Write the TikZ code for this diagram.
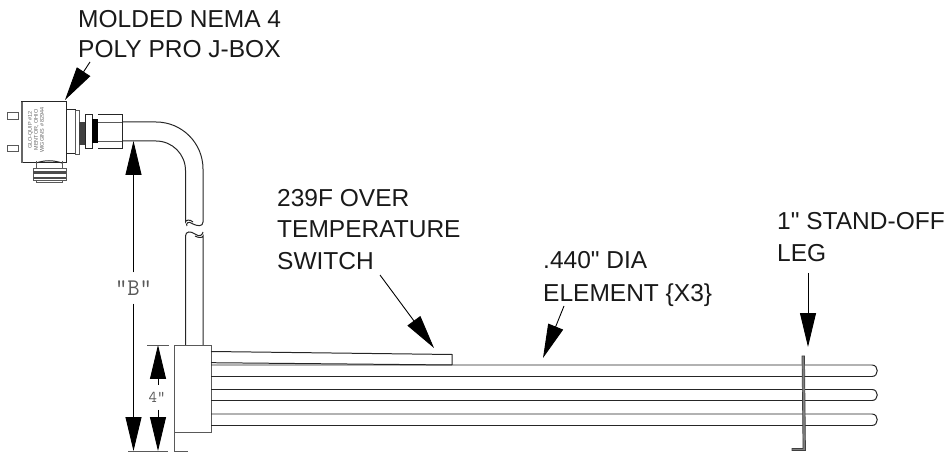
\documentclass[tikz,border=0pt]{standalone}
\usepackage{fontspec}
\newfontfamily\labelf{Liberation Sans}
\usetikzlibrary{arrows.meta}
\tikzset{
  outline/.style={draw=black!85,line width=1pt},
  thin part/.style={draw=black!65,line width=.9pt},
  label/.style={anchor=base west,inner sep=0pt,font=\labelf\fontsize{24.6}{28}\selectfont,text=black!90},
  dimtext/.style={inner sep=0pt,text=black!65},
  headed/.style={draw=black,line width=.9pt,-{Triangle[length=34pt,width=16pt,fill=black]}},
}
\begin{document}
\begin{tikzpicture}[x=1bp,y=-1bp]
\useasboundingbox (0,0) rectangle (945,455);
% labels
\node[label] (l1) at (78,28) {MOLDED NEMA 4};
\node[label] (l2) at (78,58) {POLY PRO J-BOX};
\node[label] (l3) at (277,207) {239F OVER};
\node[label] (l4) at (277,238) {TEMPERATURE};
\node[label] (l5) at (277,270) {SWITCH};
\node[label] (l6) at (543,269) {.440" DIA};
\node[label] (l7) at (543,302) {ELEMENT \{X3\}};
\node[label] (l8) at (777,230) {1" STAND-OFF};
\node[label] (l9) at (777,262) {LEG};
% j-box
\draw[outline] (21,102) rectangle (66,163);
\fill[black!60] (20.5,102) rectangle (23,163);
\draw[thin part] (7,112) rectangle (18,119);
\draw[thin part] (7,145) rectangle (18,151);
\draw[outline] (66,110) -- (75,110) -- (75,154) -- (66,154);
\draw[thin part] (75,110) rectangle (79,154);
\fill[black!75] (79,122) rectangle (85,145);
\draw[outline] (85,115) rectangle (92,149);
\fill[black] (92,119) rectangle (98,143);
\draw[outline] (98,115) -- (122,115) -- (122,149) -- (98,149);
\draw[thin part] (98,122) -- (122,122) (98,141) -- (122,141);
\draw[outline] (36,163) .. controls (45,160) and (53,160) .. (62,163);
\draw[thin part] (36,161) -- (36,168) (62,161) -- (62,168);
\draw[thin part] (33,168) rectangle (66,180);
\fill[black!70] (33,171.5) rectangle (66,174);
\fill[black!70] (33,177) rectangle (66,179);
\draw[thin part] (36,180) -- (36,182) -- (62,182) -- (62,180);
\node[rotate=90,inner sep=0pt,align=center,font=\labelf\fontsize{5.5}{6}\selectfont,text=black!60] (plate) at (36,130) {GLO-QUIP \#12\\MENTOR, OHIO\\WIGGINS \# 82944};
% tube
\draw[outline] (122,122) -- (156,122) arc[start angle=-90,end angle=0,radius=47] -- (203,222) .. controls (203,227) and (197,226) .. (193,224) .. controls (188,220) and (185.5,224) .. (187,226);
\draw[outline] (122,141) -- (156,141) arc[start angle=-90,end angle=0,radius=29.5] -- (185.5,222) .. controls (185.5,220) and (190,219) .. (193,222);
\draw[outline] (185.5,345) -- (185.5,236) .. controls (185.5,231) and (191,231) .. (195,234) .. controls (200,238) and (203,234) .. (203,232);
\draw[outline] (203,345) -- (203,236) .. controls (203,238) and (198,238) .. (195,236);
% header box
\draw[thin part] (174,345) rectangle (211,432);
\draw[thin part] (174,432) -- (174,451) -- (188,451);
% switch
\draw[outline] (211,351.5) -- (452,354.5) -- (452,365) (211,362.7) -- (452,365);
% elements
\foreach \a/\b in {365/376.5,389.5/400.5,414/425.5}{
  \draw[outline] (211,\a) -- (872,\a) .. controls (879,\a) and (879,\b) .. (872,\b) -- (211,\b);
}
% stand-off
\draw[draw=black!75,fill=black!50,line width=.7pt] (802,356) -- (804.5,356) -- (805.5,450.5) -- (792,450.5) -- (792,448.5) -- (803,448.5) -- cycle;
% dims
\node[dimtext,minimum height=31,font=\ttfamily\fontsize{24}{26}\selectfont] (b) at (133.5,288) {"B"};
\node[dimtext,minimum height=25,font=\ttfamily\fontsize{16.5}{18}\selectfont] (four) at (157,397.5) {4"};
\coordinate (bt) at (133.5,141); \coordinate (bb) at (133.5,451);
\coordinate (ft) at (158,345); \coordinate (fb) at (158,451);
\coordinate (fn) at (158,385); \coordinate (fs) at (158,410);
\draw[headed] (b.north) -- (bt);
\draw[headed] (b.south) -- (bb);
\draw[headed] (fn) -- (ft);
\draw[headed] (fs) -- (fb);
\draw[thin part] (128,451) -- (168,451) (147,345) -- (169,345);
% leaders
\coordinate (a1) at (90,62); \coordinate (a1t) at (65,100);
\coordinate (a2) at (380,275); \coordinate (a2t) at (434,348);
\coordinate (a3) at (564,306); \coordinate (a3t) at (543,358);
\coordinate (a4) at (808,273); \coordinate (a4t) at (808,347);
\draw[headed] (a1) -- (a1t);
\draw[headed] (a2) -- (a2t);
\draw[headed] (a3) -- (a3t);
\draw[headed] (a4) -- (a4t);
\end{tikzpicture}
\end{document}
